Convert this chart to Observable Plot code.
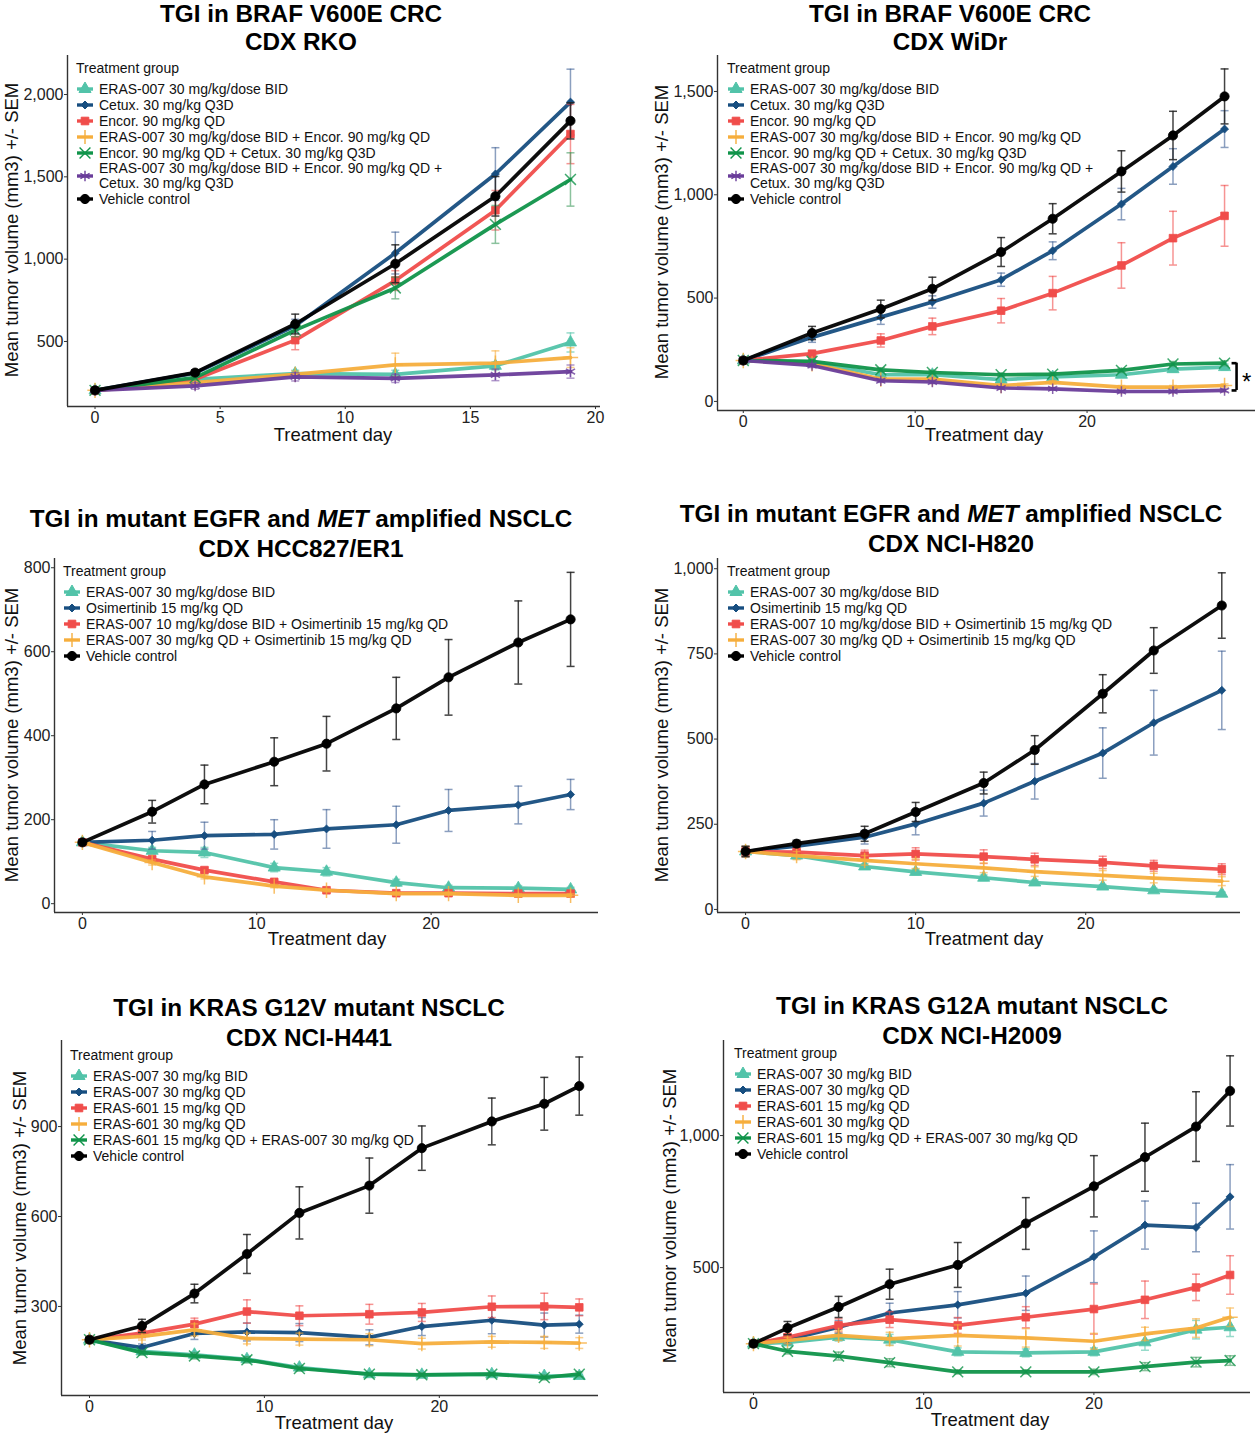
<!DOCTYPE html>
<html><head><meta charset="utf-8">
<script src="https://cdn.jsdelivr.net/npm/d3@7"></script>
<script src="https://cdn.jsdelivr.net/npm/@observablehq/plot@0.6"></script>
<style>
body{margin:0;background:#fff;font-family:"Liberation Sans",Arial,sans-serif;color:#111;}
#page{position:relative;width:1260px;height:1438px;overflow:hidden;background:#fff;}
.title{position:absolute;font-weight:bold;font-size:24.3px;white-space:nowrap;transform:translate(-50%,-50%);line-height:1;color:#000;}
.xlab{position:absolute;font-size:18.5px;transform:translate(-50%,-50%);white-space:nowrap;line-height:1;color:#111;}
.ylab{position:absolute;font-size:18.5px;transform:translate(-50%,-50%) rotate(-90deg);white-space:nowrap;line-height:1;color:#111;}
.legend{position:absolute;font-size:14px;line-height:16px;color:#111;}
.legend .lt{margin-bottom:5px;}
.legend .row{display:flex;align-items:center;}
.legend .row svg{flex:none;margin-right:5px;}
.legend .multi{line-height:15px;}
</style></head><body><div id="page"></div>
<script>
// ---------- DATA ----------
// Panel 1: BRAF V600E CRC, CDX RKO
const rkoDays = [0, 4, 8, 12, 16, 19];
const rkoEras007 = [203, 270, 305, 300, 352, 494];
const rkoEras007Sem = [8, 15, 20, 25, 25, 58];
const rkoCetux = [203, 308, 595, 1037, 1517, 1954];
const rkoCetuxSem = [8, 20, 40, 127, 160, 200];
const rkoEncor = [203, 270, 508, 870, 1297, 1760];
const rkoEncorSem = [8, 15, 58, 60, 120, 180];
const rkoErasEncor = [203, 250, 300, 358, 368, 402];
const rkoErasEncorSem = [8, 15, 20, 71, 75, 60];
const rkoEncorCetux = [203, 280, 569, 825, 1211, 1484];
const rkoEncorCetuxSem = [8, 15, 40, 66, 115, 162];
const rkoTriple = [203, 230, 285, 276, 297, 317];
const rkoTripleSem = [8, 20, 25, 25, 35, 40];
const rkoVehicle = [203, 311, 606, 972, 1382, 1840];
const rkoVehicleSem = [8, 15, 60, 115, 120, 110];

// Panel 2: BRAF V600E CRC, CDX WiDr
const widrDays = [0, 4, 8, 11, 15, 18, 22, 25, 28];
const widrEras007 = [198, 190, 129, 129, 105, 118, 129, 156, 166];
const widrEras007Sem = [8, 10, 10, 10, 10, 10, 12, 15, 15];
const widrCetux = [198, 310, 408, 481, 589, 729, 955, 1137, 1318];
const widrCetuxSem = [8, 24, 35, 30, 32, 43, 76, 86, 89];
const widrEncor = [198, 231, 295, 363, 439, 524, 658, 790, 898];
const widrEncorSem = [8, 13, 32, 40, 59, 81, 110, 130, 147];
const widrErasEncor = [198, 182, 108, 108, 77, 92, 69, 69, 77];
const widrErasEncorSem = [8, 10, 8, 8, 8, 8, 8, 8, 8];
const widrEncorCetux = [198, 194, 153, 140, 129, 132, 150, 181, 185];
const widrEncorCetuxSem = [8, 10, 10, 10, 8, 8, 10, 12, 12];
const widrTriple = [198, 174, 100, 94, 65, 61, 48, 48, 53];
const widrTripleSem = [8, 10, 8, 8, 6, 6, 6, 6, 6];
const widrVehicle = [198, 331, 447, 545, 723, 884, 1113, 1287, 1476];
const widrVehicleSem = [8, 32, 43, 56, 70, 73, 100, 117, 133];

// Panel 3: mutant EGFR / MET amplified NSCLC, CDX HCC827/ER1
const hccDays = [0, 4, 7, 11, 14, 18, 21, 25, 28];
const hccEras007 = [146, 126, 122, 86, 76, 50, 38, 37, 34];
const hccEras007Sem = [6, 8, 12, 10, 10, 8, 6, 6, 5];
const hccOsi = [146, 151, 162, 165, 178, 188, 222, 235, 260];
const hccOsiSem = [6, 21, 32, 35, 46, 44, 50, 45, 36];
const hccEras10Osi = [146, 106, 80, 52, 32, 25, 25, 24, 24];
const hccEras10OsiSem = [6, 6, 6, 5, 4, 4, 4, 4, 4];
const hccEras30Osi = [146, 98, 64, 42, 32, 24, 24, 20, 20];
const hccEras30OsiSem = [6, 6, 5, 4, 4, 4, 4, 4, 4];
const hccVehicle = [146, 219, 284, 338, 381, 465, 539, 622, 677];
const hccVehicleSem = [6, 27, 46, 57, 65, 74, 90, 99, 112];

// Panel 4: mutant EGFR / MET amplified NSCLC, CDX NCI-H820
const h820Days = [0, 3, 7, 10, 14, 17, 21, 24, 28];
const h820Eras007 = [170, 158, 126, 110, 93, 79, 67, 56, 46];
const h820Eras007Sem = [15, 10, 8, 8, 8, 7, 6, 6, 5];
const h820Osi = [170, 186, 212, 251, 312, 376, 459, 548, 643];
const h820OsiSem = [15, 12, 20, 32, 38, 52, 74, 95, 115];
const h820Eras10Osi = [170, 168, 158, 163, 155, 147, 138, 128, 118];
const h820Eras10OsiSem = [15, 12, 16, 18, 20, 18, 18, 16, 16];
const h820Eras30Osi = [170, 158, 144, 134, 122, 111, 100, 92, 83];
const h820Eras30OsiSem = [15, 12, 14, 14, 14, 14, 14, 14, 13];
const h820Vehicle = [170, 193, 222, 286, 371, 468, 633, 760, 892];
const h820VehicleSem = [15, 10, 22, 28, 32, 42, 56, 67, 96];

// Panel 5: KRAS G12V mutant NSCLC, CDX NCI-H441
const h441Days = [0, 3, 6, 9, 12, 16, 19, 23, 26, 28];
const h441Eras007Bid = [189, 150, 139, 124, 96, 74, 72, 74, 68, 68];
const h441Eras007BidSem = [6, 8, 10, 10, 8, 6, 6, 6, 8, 6];
const h441Eras007Qd = [189, 163, 210, 215, 213, 197, 233, 254, 238, 241];
const h441Eras007QdSem = [6, 12, 20, 30, 30, 25, 30, 45, 40, 30];
const h441Eras601Low = [189, 211, 241, 283, 269, 274, 280, 299, 300, 297];
const h441Eras601LowSem = [6, 15, 20, 39, 33, 33, 30, 36, 44, 28];
const h441Eras601High = [189, 200, 222, 193, 191, 189, 176, 182, 180, 178];
const h441Eras601HighSem = [6, 12, 20, 18, 20, 20, 18, 18, 20, 18];
const h441Combo = [189, 146, 135, 122, 93, 74, 72, 74, 63, 74];
const h441ComboSem = [6, 8, 10, 10, 8, 6, 6, 6, 8, 8];
const h441Vehicle = [189, 235, 343, 475, 612, 703, 828, 917, 976, 1035];
const h441VehicleSem = [6, 22, 31, 65, 87, 92, 74, 78, 88, 97];

// Panel 6: KRAS G12A mutant NSCLC, CDX NCI-H2009
const h2009Days = [0, 2, 5, 8, 12, 16, 20, 23, 26, 28];
const h2009Eras007Bid = [212, 217, 237, 227, 181, 177, 181, 217, 265, 274];
const h2009Eras007BidSem = [10, 12, 15, 20, 15, 15, 15, 30, 35, 35];
const h2009Eras007Qd = [212, 227, 274, 328, 359, 403, 541, 661, 652, 768];
const h2009Eras007QdSem = [10, 15, 25, 37, 50, 65, 98, 91, 92, 122];
const h2009Eras601Low = [212, 236, 281, 303, 281, 312, 343, 378, 425, 472];
const h2009Eras601LowSem = [10, 15, 25, 30, 30, 40, 95, 71, 50, 73];
const h2009Eras601High = [212, 224, 243, 230, 243, 234, 221, 249, 271, 312];
const h2009Eras601HighSem = [10, 12, 18, 25, 40, 35, 30, 25, 35, 35];
const h2009Combo = [212, 183, 165, 140, 105, 105, 105, 125, 142, 148];
const h2009ComboSem = [10, 10, 15, 15, 8, 8, 10, 15, 18, 18];
const h2009Vehicle = [212, 271, 351, 437, 510, 667, 808, 918, 1034, 1169];
const h2009VehicleSem = [10, 25, 40, 57, 85, 98, 116, 129, 132, 133];

// Tick values
const xTicksRko = [0, 5, 10, 15, 20];
const xTicksLong = [0, 10, 20];
const yTicksRko = [500, 1000, 1500, 2000];
const yTicksWidr = [0, 500, 1000, 1500];
const yTicksHcc = [0, 200, 400, 600, 800];
const yTicksH820 = [0, 250, 500, 750, 1000];
const yTicksH441 = [300, 600, 900];
const yTicksH2009 = [500, 1000];

// ---------- STYLES ----------
const styles = {
  teal:   {color: "#52C3A9", err: "#52C3A9", symbol: "triangle", d3sym: d3.symbolTriangle, filled: true, r: 4.5},
  blue:   {color: "#174E80", err: "#3D5F94", symbol: "diamond2", d3sym: d3.symbolDiamond2, filled: true, r: 3.6},
  red:    {color: "#F04D4B", err: "#F04D4B", symbol: "square", d3sym: d3.symbolSquare, filled: true, r: 4.3},
  orange: {color: "#F6AE3D", err: "#F6AE3D", symbol: "plus", d3sym: d3.symbolPlus, filled: false, r: 5},
  green:  {color: "#10944A", err: "#3E9A5C", symbol: "times", d3sym: d3.symbolTimes, filled: false, r: 5},
  purple: {color: "#6A3D9A", err: "#7B52A8", symbol: "asterisk", d3sym: d3.symbolAsterisk, filled: false, r: 5},
  black:  {color: "#000000", err: "#222222", symbol: "circle", d3sym: d3.symbolCircle, filled: true, r: 4.6}
};
const capSym = {draw(ctx, size) { const r = Math.sqrt(size / Math.PI); ctx.moveTo(-r, 0); ctx.lineTo(r, 0); }};
const halfCapSym = {draw(ctx, size) { const r = Math.sqrt(size / Math.PI); ctx.moveTo(-r, 0); ctx.lineTo(0, 0); }};

const page = document.getElementById("page");
function addEl(cls, html, x, y) {
  const e = document.createElement("div");
  e.className = cls; e.innerHTML = html;
  e.style.left = x + "px"; e.style.top = y + "px";
  page.appendChild(e); return e;
}

function series(label, style, mean, sem) { return {label, style, mean, sem}; }

function drawPanel(cfg) {
  const mL = 70, mR = cfg.mR ?? 20, mT = 10, mB = 30;
  const w = cfg.right - cfg.left, h = cfg.bottom - cfg.top;
  const marks = [
    Plot.axisX({ticks: cfg.xTicks, tickSize: 3, tickPadding: 2, fontSize: 16, label: null, stroke: "#333"}),
    Plot.axisY({ticks: cfg.yTicks, tickSize: 3, tickPadding: 1, fontSize: 16, label: null, stroke: "#333", tickFormat: d3.format(",")}),
    Plot.ruleY([cfg.yDomain[0]], {stroke: "#333", strokeWidth: 1.4}),
    Plot.ruleX([cfg.xDomain[0]], {stroke: "#333", strokeWidth: 1.4})
  ];
  for (const s of cfg.series) {
    const st = styles[s.style];
    const rows = cfg.days.map((d, i) => ({day: d, mean: s.mean[i], sem: s.sem[i]}));
    const op = s.style === "black" ? 0.85 : 0.6;
    marks.push(Plot.ruleX(rows, {x: "day", y1: d => d.mean - d.sem, y2: d => d.mean + d.sem, stroke: st.err, strokeOpacity: op, strokeWidth: 1.5}));
    marks.push(Plot.dot(rows, {x: "day", y: d => d.mean + d.sem, symbol: capSym, r: 4, fill: "none", stroke: st.err, strokeOpacity: op, strokeWidth: 1.5}));
    marks.push(Plot.dot(rows, {x: "day", y: d => d.mean - d.sem, symbol: capSym, r: 4, fill: "none", stroke: st.err, strokeOpacity: op, strokeWidth: 1.5}));
    marks.push(Plot.line(rows, {x: "day", y: "mean", stroke: st.color, strokeWidth: 3.7, strokeOpacity: 0.95}));
    marks.push(Plot.dot(rows, {x: "day", y: "mean", symbol: st.symbol, r: st.r,
      fill: st.filled ? st.color : "none", stroke: st.color, strokeWidth: st.filled ? 1 : 1.5, strokeOpacity: 0.8}));
  }
  if (cfg.extra) marks.push(...cfg.extra);
  const svg = Plot.plot({
    width: w + mL + mR, height: h + mT + mB,
    marginLeft: mL, marginRight: mR, marginTop: mT, marginBottom: mB,
    x: {domain: cfg.xDomain},
    y: {domain: cfg.yDomain},
    style: {fontFamily: "'Liberation Sans', Arial, sans-serif", fontSize: "16px", color: "#222", background: "transparent", overflow: "visible"},
    marks
  });
  const holder = document.createElement("div");
  holder.style.position = "absolute";
  holder.style.left = (cfg.left - mL) + "px";
  holder.style.top = (cfg.top - mT) + "px";
  holder.style.width = (w + mL + mR) + "px";
  holder.appendChild(svg);
  page.appendChild(holder);

  // titles & axis labels
  addEl("title", cfg.title[0], cfg.titleX, cfg.titleY[0]);
  addEl("title", cfg.title[1], cfg.titleX, cfg.titleY[1]);
  addEl("xlab", "Treatment day", cfg.xlabPos[0], cfg.xlabPos[1]);
  addEl("ylab", "Mean tumor volume (mm3) +/- SEM", cfg.ylabPos[0], cfg.ylabPos[1]);

  // legend
  const lg = addEl("legend", "", cfg.legendPos[0], cfg.legendPos[1]);
  const t = document.createElement("div"); t.className = "lt"; t.textContent = "Treatment group"; lg.appendChild(t);
  for (const s of cfg.series) {
    const st = styles[s.style];
    const row = document.createElement("div"); row.className = "row";
    const sw = d3.create("svg").attr("width", 18).attr("height", 14);
    sw.append("line").attr("x1", 1).attr("x2", 17).attr("y1", 7).attr("y2", 7)
      .attr("stroke", st.color).attr("stroke-width", 3.4);
    sw.append("path").attr("transform", "translate(9,7)")
      .attr("d", d3.symbol(st.d3sym, Math.PI * st.r * st.r)())
      .attr("fill", st.filled ? st.color : "none").attr("stroke", st.color).attr("stroke-width", st.filled ? 1 : 1.4);
    row.appendChild(sw.node());
    const lab = document.createElement("div"); lab.innerHTML = s.label;
    if (s.label.includes("<br>")) lab.className = "multi";
    row.appendChild(lab);
    lg.appendChild(row);
  }
}

const labErasBid = "ERAS-007 30 mg/kg/dose BID";
const labCetux = "Cetux. 30 mg/kg Q3D";
const labEncor = "Encor. 90 mg/kg QD";
const labErasEncor = "ERAS-007 30 mg/kg/dose BID + Encor. 90 mg/kg QD";
const labEncorCetux = "Encor. 90 mg/kg QD + Cetux. 30 mg/kg Q3D";
const labTriple = "ERAS-007 30 mg/kg/dose BID + Encor. 90 mg/kg QD +<br>Cetux. 30 mg/kg Q3D";
const labVehicle = "Vehicle control";

// Panel 1
drawPanel({
  left: 67, right: 600, top: 55, bottom: 406, mR: 10,
  xDomain: [-1.1, 20.2], yDomain: [105, 2237], xTicks: xTicksRko, yTicks: yTicksRko,
  days: rkoDays,
  series: [
    series(labErasBid, "teal", rkoEras007, rkoEras007Sem),
    series(labCetux, "blue", rkoCetux, rkoCetuxSem),
    series(labEncor, "red", rkoEncor, rkoEncorSem),
    series(labErasEncor, "orange", rkoErasEncor, rkoErasEncorSem),
    series(labEncorCetux, "green", rkoEncorCetux, rkoEncorCetuxSem),
    series(labTriple, "purple", rkoTriple, rkoTripleSem),
    series(labVehicle, "black", rkoVehicle, rkoVehicleSem)
  ],
  title: ["TGI in BRAF V600E CRC", "CDX RKO"], titleX: 301, titleY: [14, 42],
  xlabPos: [333, 435], ylabPos: [12, 230], legendPos: [76, 60]
});

// Panel 2 (with significance bracket)
const widrLowLast = [widrEras007, widrErasEncor, widrEncorCetux, widrTriple].map(a => a[a.length - 1]);
const widrLastDay = widrDays[widrDays.length - 1];
const bracket = [{day: widrLastDay, lo: d3.min(widrLowLast), hi: d3.max(widrLowLast)}];
drawPanel({
  left: 717, right: 1255, top: 55, bottom: 410, mR: 5,
  xDomain: [-1.5, 29.8], yDomain: [-44, 1674], xTicks: xTicksLong, yTicks: yTicksWidr,
  days: widrDays,
  series: [
    series(labErasBid, "teal", widrEras007, widrEras007Sem),
    series(labCetux, "blue", widrCetux, widrCetuxSem),
    series(labEncor, "red", widrEncor, widrEncorSem),
    series(labErasEncor, "orange", widrErasEncor, widrErasEncorSem),
    series(labEncorCetux, "green", widrEncorCetux, widrEncorCetuxSem),
    series(labTriple, "purple", widrTriple, widrTripleSem),
    series(labVehicle, "black", widrVehicle, widrVehicleSem)
  ],
  extra: [
    Plot.ruleX(bracket, {x: "day", y1: "lo", y2: "hi", dx: 12, stroke: "#000", strokeWidth: 2.6}),
    Plot.dot(bracket, {x: "day", y: "lo", dx: 12, symbol: halfCapSym, r: 5, stroke: "#000", strokeWidth: 2.6, fill: "none"}),
    Plot.dot(bracket, {x: "day", y: "hi", dx: 12, symbol: halfCapSym, r: 5, stroke: "#000", strokeWidth: 2.6, fill: "none"}),
    Plot.text(bracket, {x: "day", y: d => (d.lo + d.hi) / 2, text: () => "*", dx: 22, dy: 5, fontSize: 24, fill: "#000"})
  ],
  title: ["TGI in BRAF V600E CRC", "CDX WiDr"], titleX: 950, titleY: [14, 42],
  xlabPos: [984, 435], ylabPos: [662, 232], legendPos: [727, 60]
});

// Panel 3
drawPanel({
  left: 54, right: 598, top: 558, bottom: 912,
  xDomain: [-1.6, 29.6], yDomain: [-21, 822], xTicks: xTicksLong, yTicks: yTicksHcc,
  days: hccDays,
  series: [
    series("ERAS-007 30 mg/kg/dose BID", "teal", hccEras007, hccEras007Sem),
    series("Osimertinib 15 mg/kg QD", "blue", hccOsi, hccOsiSem),
    series("ERAS-007 10 mg/kg/dose BID + Osimertinib 15 mg/kg QD", "red", hccEras10Osi, hccEras10OsiSem),
    series("ERAS-007 30 mg/kg QD + Osimertinib 15 mg/kg QD", "orange", hccEras30Osi, hccEras30OsiSem),
    series(labVehicle, "black", hccVehicle, hccVehicleSem)
  ],
  title: ["TGI in mutant EGFR and <i>MET</i> amplified NSCLC", "CDX HCC827/ER1"], titleX: 301, titleY: [519, 549],
  xlabPos: [327, 939], ylabPos: [12, 735], legendPos: [63, 563]
});

// Panel 4
drawPanel({
  left: 717, right: 1240, top: 558, bottom: 912,
  xDomain: [-1.65, 29.1], yDomain: [-9, 1030], xTicks: xTicksLong, yTicks: yTicksH820,
  days: h820Days,
  series: [
    series("ERAS-007 30 mg/kg/dose BID", "teal", h820Eras007, h820Eras007Sem),
    series("Osimertinib 15 mg/kg QD", "blue", h820Osi, h820OsiSem),
    series("ERAS-007 10 mg/kg/dose BID + Osimertinib 15 mg/kg QD", "red", h820Eras10Osi, h820Eras10OsiSem),
    series("ERAS-007 30 mg/kg QD + Osimertinib 15 mg/kg QD", "orange", h820Eras30Osi, h820Eras30OsiSem),
    series(labVehicle, "black", h820Vehicle, h820VehicleSem)
  ],
  title: ["TGI in mutant EGFR and <i>MET</i> amplified NSCLC", "CDX NCI-H820"], titleX: 951, titleY: [514, 544],
  xlabPos: [984, 939], ylabPos: [662, 735], legendPos: [727, 563]
});

// Panel 5
drawPanel({
  left: 61, right: 598, top: 1040, bottom: 1395,
  xDomain: [-1.6, 29.1], yDomain: [3, 1187], xTicks: xTicksLong, yTicks: yTicksH441,
  days: h441Days,
  series: [
    series("ERAS-007 30 mg/kg BID", "teal", h441Eras007Bid, h441Eras007BidSem),
    series("ERAS-007 30 mg/kg QD", "blue", h441Eras007Qd, h441Eras007QdSem),
    series("ERAS-601 15 mg/kg QD", "red", h441Eras601Low, h441Eras601LowSem),
    series("ERAS-601 30 mg/kg QD", "orange", h441Eras601High, h441Eras601HighSem),
    series("ERAS-601 15 mg/kg QD + ERAS-007 30 mg/kg QD", "green", h441Combo, h441ComboSem),
    series(labVehicle, "black", h441Vehicle, h441VehicleSem)
  ],
  title: ["TGI in KRAS G12V mutant NSCLC", "CDX NCI-H441"], titleX: 309, titleY: [1008, 1038],
  xlabPos: [334, 1423], ylabPos: [20, 1218], legendPos: [70, 1047]
});

// Panel 6
drawPanel({
  left: 723, right: 1250, top: 1040, bottom: 1392,
  xDomain: [-1.76, 29.2], yDomain: [27, 1360], xTicks: xTicksLong, yTicks: yTicksH2009,
  days: h2009Days,
  series: [
    series("ERAS-007 30 mg/kg BID", "teal", h2009Eras007Bid, h2009Eras007BidSem),
    series("ERAS-007 30 mg/kg QD", "blue", h2009Eras007Qd, h2009Eras007QdSem),
    series("ERAS-601 15 mg/kg QD", "red", h2009Eras601Low, h2009Eras601LowSem),
    series("ERAS-601 30 mg/kg QD", "orange", h2009Eras601High, h2009Eras601HighSem),
    series("ERAS-601 15 mg/kg QD + ERAS-007 30 mg/kg QD", "green", h2009Combo, h2009ComboSem),
    series(labVehicle, "black", h2009Vehicle, h2009VehicleSem)
  ],
  title: ["TGI in KRAS G12A mutant NSCLC", "CDX NCI-H2009"], titleX: 972, titleY: [1006, 1036],
  xlabPos: [990, 1420], ylabPos: [670, 1216], legendPos: [734, 1045]
});
</script>
</body></html>
